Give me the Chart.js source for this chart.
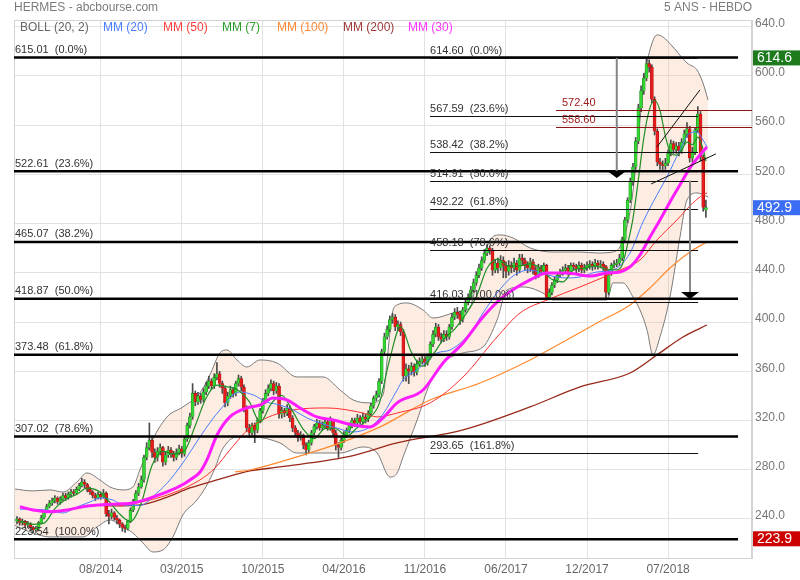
<!DOCTYPE html>
<html>
<head>
<meta charset="utf-8">
<script src="https://cdn.jsdelivr.net/npm/chart.js@4.4.1/dist/chart.umd.min.js"></script>
<style>
  html, body { margin: 0; padding: 0; background: #fff; }
  #wrap { width: 800px; height: 580px; }
</style>
</head>
<body>
<div id="wrap"><canvas id="chart" width="800" height="580"></canvas></div>
<script>
// weekly bars, index 0 = first visible week
const dateTicks = [31, 61, 91, 121, 151, 181, 211, 241];
const dateLabels = ['08/2014', '03/2015', '10/2015', '04/2016', '11/2016', '06/2017', '12/2017', '07/2018'];
const priceTicks = [240, 280, 320, 360, 400, 440, 480, 520, 560, 600, 640];

const opens = [
  238,240,237,238,235,236,233,231,232,237,241,246,250,
  253,255,257,254,256,259,257,260,262,261,264,267,270,268,264,
  262,259,257,260,258,261,244,242,245,241,239,236,233,
  232,238,247,254,261,266,272,290,298,304,294,
  290,295,298,286,292,296,293,290,294,297,
  293,305,316,323,342,335,340,337,343,
  348,352,348,355,358,350,346,334,340,345,
  342,350,354,347,330,314,310,316,
  312,320,328,336,342,346,350,344,348,325,
  328,326,330,322,314,310,306,308,300,296,302,310,
  315,318,314,316,319,314,320,310,300,298,
  304,308,312,316,320,318,322,319,323,321,326,332,338,
  341,352,376,388,394,402,404,396,398,392,
  356,362,360,364,359,366,368,370,367,
  372,382,390,396,388,386,390,388,396,404,408,406,402,410,416,420,426,432,
  438,444,450,456,460,458,442,448,444,450,446,441,
  446,444,448,442,452,450,446,444,449,442,438,444,441,446,
  420,424,430,434,438,440,442,444,441,446,445,443,446,442,
  444,446,447,445,448,446,447,445,424,440,446,447,
  448,452,467,483,499,514,526,547,574,588,598,610,607,581,555,530,528,
  527,529,537,545,540,543,539,546,553,557,533,538,556,569,534,491
];
const highs = [
  242,241,240,239,238,237,234,234,238,243,247,252,255,
  257,259,258,258,261,261,262,264,264,266,269,273,272,269,266,
  263,261,262,262,264,262,247,248,246,243,240,237,235,
  239,249,256,263,269,275,292,302,318,306,297,
  298,301,299,295,299,298,295,297,300,299,
  307,318,326,350,344,343,342,346,351,
  356,354,358,367,360,352,348,343,348,347,
  352,357,356,349,332,317,318,318,
  322,330,338,345,349,353,352,351,350,331,
  330,333,332,324,316,312,311,309,302,304,312,317,
  321,320,319,322,321,323,321,312,302,306,
  311,314,318,322,322,325,324,326,325,328,334,340,344,
  354,378,391,397,405,407,406,401,400,394,
  366,365,367,366,369,371,373,372,374,
  384,393,399,398,391,393,393,398,407,411,412,409,412,419,423,429,435,441,
  447,453,459,463,462,460,451,452,454,453,449,450,
  449,452,450,455,455,452,449,452,451,445,447,446,448,447,
  427,432,437,440,443,445,447,446,448,448,447,449,448,447,
  449,450,449,451,450,450,449,446,442,448,450,451,
  455,469,485,501,517,529,550,577,592,602,614.6,613,609,583,557,533,531,
  533,540,548,547,546,546,549,556,562,559,542,558,575,571,536,499
];
const lows = [
  236,235,235,233,233,231,229,229,231,236,240,245,249,
  251,253,252,252,255,255,256,258,259,260,263,266,265,262,260,
  257,255,256,256,257,242,236,240,239,236,233,230,229,
  231,237,246,253,259,265,270,288,296,290,286,
  287,292,283,284,290,290,287,288,292,290,
  291,303,314,321,332,333,334,335,341,
  346,345,346,353,347,342,331,332,338,339,
  340,348,344,327,311,306,308,302,
  310,318,326,334,340,344,341,342,322,322,
  323,324,319,311,307,303,304,297,292,294,300,308,
  313,312,312,314,312,312,307,296,290,296,
  302,306,310,314,315,316,317,317,318,319,324,330,336,
  339,350,374,386,392,399,393,393,389,352,
  352,350,357,356,357,364,366,364,365,
  370,380,388,385,383,384,385,386,394,402,403,398,400,408,414,418,424,430,
  436,442,448,454,455,438,440,440,442,436,436,438,
  440,441,438,440,446,442,440,441,439,435,436,438,439,418,
  418,422,428,432,436,438,440,438,439,442,440,441,440,440,
  442,443,442,443,443,444,442,419,422,438,444,445,
  446,450,465,481,497,511,524,545,571,585,596,603,578,552,527,524,522,
  524,527,535,537,537,535,537,544,550,530,530,536,554,531,490,485
];
const closes = [
  240,237,238,235,236,233,231,232,237,241,246,250,253,
  255,257,254,256,259,257,260,262,261,264,267,270,268,264,262,
  259,257,260,258,261,244,242,245,241,239,236,233,232,
  238,247,254,261,266,272,290,298,304,294,290,
  295,298,286,292,296,293,290,294,297,293,
  305,316,323,342,335,340,337,343,348,
  352,348,355,358,350,346,334,340,345,342,
  350,354,347,330,314,310,316,312,
  320,328,336,342,346,350,344,348,325,328,
  326,330,322,314,310,306,308,300,296,302,310,315,
  318,314,316,319,314,320,310,300,298,304,
  308,312,316,320,318,322,319,323,321,326,332,338,341,
  352,376,388,394,402,404,396,398,392,356,
  362,360,364,359,366,368,370,367,372,
  382,390,396,388,386,390,388,396,404,408,406,402,410,416,420,426,432,438,
  444,450,456,460,458,442,448,444,450,446,441,446,
  444,448,442,452,450,446,444,449,442,438,444,441,446,420,
  424,430,434,438,440,442,444,441,446,445,443,446,442,444,
  446,447,445,448,446,447,445,424,440,446,447,448,
  452,467,483,499,514,526,547,574,588,598,610,607,581,555,530,528,527,
  529,537,545,540,543,539,546,553,557,533,538,556,569,534,493,492.9
];

// moving averages and bands: [week index, price]
const mm7 = [[0,239],[3,237],[6,235.7],[10,236.6],[14,248.4],[18,255.9],[22,259.9],[26,265.1],[30,262.9],[34,254.4],[38,244],[42,238],[46,252.9],[50,283.6],[54,295],[58,292.9],[62,295.4],[66,315.9],[70,338.3],[74,348.7],[78,347.3],[82,344.4],[86,335.3],[90,318.6],[94,333.4],[98,340.4],[102,327.6],[106,312.9],[110,305.3],[114,313.4],[118,313.3],[122,307.4],[126,314.3],[130,321.3],[134,333.3],[138,370.1],[142,396.3],[146,375.4],[150,364.1],[154,373.6],[158,386.3],[162,394.3],[166,406],[170,420.6],[174,443.7],[178,451.1],[182,445.3],[186,445.6],[190,447.3],[194,443.4],[198,434.7],[202,432.6],[206,442.3],[210,443.9],[214,445.4],[218,443.1],[222,442.4],[224,446.3],[226,463.1],[228,484.1],[230,515.7],[232,549.4],[234,572],[236,580],[238,572],[240,551],[242,537],[244,535.6],[246,539.9],[248,546.1],[250,544.1],[252,550.3],[254,540],[255,530.8]];
const mm20 = [[1.1,248],[11.1,247.3],[17,244.9],[22.2,249.8],[27,253.8],[30.7,257.1],[35.5,255.4],[39.2,251.4],[45.5,251],[51.8,261.1],[56.6,271.7],[62.9,290.4],[67.7,306.6],[75.1,328.6],[82.5,343.2],[87.4,340.8],[92.5,335],[97.3,332.6],[102.2,328.6],[107.3,322.1],[112.2,318],[118.4,313.9],[124.4,310.7],[130.7,314.8],[135.5,325.3],[140.7,344.8],[142.9,352.9],[148.1,361.1],[155.5,374.9],[160.3,377.3],[167.7,391.1],[172.5,407.4],[177.7,423.6],[183.6,437.4],[189.9,442.3],[196.2,438.3],[203.6,435.8],[208.4,436.6],[214.7,440.7],[220.6,442.3],[226.9,456.1],[231.7,481.3],[236.9,503.3],[240.6,517.9],[245.4,539.8],[249.1,553.6],[251.7,554.4],[253.9,548],[255.4,542.3]];
const mm30 = [[1.1,250],[5.9,247.3],[12.2,245.9],[18.5,247.3],[24.4,250],[30.7,251.4],[37,252.2],[42.9,253],[49.2,257],[55.5,262],[61.4,268],[64,271.7],[67.7,278],[70.3,288],[74,308],[78.8,322.9],[85.1,330.2],[90,332.6],[94.8,338.3],[99.9,336.7],[104.8,330.2],[111,322.9],[117,320.4],[124.4,316.4],[130.7,314.8],[135.5,322.1],[140.7,334.3],[150.3,344.8],[157.7,366.8],[165.1,383],[172.5,404.1],[179.9,420.4],[189.9,434.2],[196.2,439.9],[203.6,439.9],[212.1,437.4],[218.4,439.9],[223.2,440.7],[226.9,444.8],[230.6,454.5],[234.3,469.1],[238,483],[241.7,497.6],[245.4,511.5],[249.1,525.3],[252.8,535.8],[255.4,542.3]];
const mm50 = [[38,250.5],[49.2,255.4],[57.7,261.1],[67.7,271.7],[73.3,281.4],[78.8,296.1],[86.2,313.9],[97.3,326.1],[114.7,330.2],[128.1,326.1],[133.3,322.9],[140.7,326.1],[152.9,334.3],[165.1,355.4],[177.7,387.9],[186.2,407.4],[196.2,417.9],[208.4,428.5],[223.2,442.3],[230.6,450.4],[236.9,466.7],[244.3,483],[250.2,496.8],[253.9,503.3],[255.4,504.9]];
const mm100 = [[80.7,278.2],[86.2,279.8],[103.6,290.4],[119.6,301.8],[134.4,314.8],[152.9,336.7],[171.4,350.5],[189.9,369.2],[202.1,383.8],[214.7,399.3],[226.9,413.9],[234.3,427.7],[241.7,443.9],[249.1,457],[255.4,465.1]];
const mm200 = [[28.1,251.4],[36.3,250.6],[45.5,251.4],[54.8,257.1],[64,265.2],[74,271.7],[86.2,279],[97.3,282.3],[122.2,290.4],[140.7,301.8],[165.1,312.3],[189.9,331],[208.4,347.3],[226.9,358.6],[236.9,373.3],[246.5,387.9],[255.4,397.6]];
const bollUpper = [[-1.1,264.4],[5.9,262.8],[12.2,263.6],[17,261.9],[22.2,270.1],[25.9,277.4],[30.7,271.7],[34.4,266],[39.2,263.6],[42.9,266],[45.5,279.8],[49.2,300.1],[55.5,322.9],[61.4,331],[67.7,342.4],[71.4,357],[75.1,374.9],[77.7,377.3],[81.4,369.2],[85.1,363.5],[89.9,369.2],[96.2,366.8],[103.6,355.4],[113.3,355.4],[119.6,344.8],[124.4,336.7],[130.7,334.3],[135.5,340.8],[137,369.2],[138.8,405.8],[140.7,413.9],[144.4,415.5],[150.3,409.8],[154,403.3],[162.9,408.2],[167.7,412.3],[169.5,426.1],[172.1,448.8],[175.1,466.7],[178.8,470.8],[183.6,468.3],[189.9,460.2],[198.4,456.9],[208.4,456.9],[214.7,456.1],[220.6,456.9],[223.2,461],[225,470.8],[227.6,499.2],[229.9,547.9],[232.1,596.7],[234.3,621.1],[236.9,633.3],[239.1,631.6],[242.8,623.5],[248,610.5],[251.7,604.8],[253.9,594.3],[255.8,580.4]];
const bollLower = [[-1.1,235.1],[5.9,228.6],[12.2,225.4],[18.5,225.4],[24.4,225.4],[29.6,233.5],[34.4,239.2],[39.2,233.5],[42.9,228.6],[46.6,220.5],[50.3,213.2],[54,214.8],[57.7,225.4],[61.4,243.3],[66.6,255.4],[70.3,267.6],[73.3,281.4],[75.9,296.1],[81.4,306.6],[87.4,306.6],[97.3,301.8],[103.6,293.6],[112.2,293.6],[119.6,293.6],[128.1,298.5],[133.3,293.6],[138.1,274.1],[140.7,277.4],[142.9,290.4],[148.1,320.4],[152.9,350.5],[157.7,366.8],[165.1,374.9],[172.5,379.8],[177.7,401.7],[181.4,426.1],[187.3,428.5],[194.7,423.6],[198.4,417.9],[214.7,417.9],[218.4,417.9],[220.6,431.8],[224.3,431.8],[228,420.4],[230.6,409.8],[233.2,393.6],[235.4,373.3],[238,387.9],[241.7,420.4],[245.4,469.1],[248,499.2],[251.7,504.9],[255.8,501.6]];

// Fibonacci retracements
const fibLongLevels = [615.01, 522.61, 465.07, 418.87, 373.48, 307.02, 223.54];
const fibLongPct = ['0.0%', '23.6%', '38.2%', '50.0%', '61.8%', '78.6%', '100.0%'];
const fibShortLevels = [614.60, 567.59, 538.42, 514.91, 492.22, 458.18, 416.03, 293.65];
const fibShortPct = ['0.0%', '23.6%', '38.2%', '50.0%', '61.8%', '78.6%', '100.0%', '161.8%'];
const resistLevels = [572.40, 558.60];
const trendLines = [[236.9, 542.3, 252.8, 588.6], [234.7, 512.2, 258.7, 536.6]];
const arrows = [[222, 614.6, 522.6, 517.1], [249.1, 514.91, 424.4, 418.8]];
const priceTags = [614.6, 492.9, 223.9];
const priceTagColors = ['#1d7a1d', '#3b6cf4', '#cc0000'];

const legendItems = [
  ['BOLL (20, 2)', '#666666', 20], ['MM (20)', '#4a7dff', 103], ['MM (50)', '#ff4040', 163],
  ['MM (7)', '#2c9c2c', 222], ['MM (100)', '#ff8833', 277], ['MM (200)', '#a03a3a', 343],
  ['MM (30)', '#ff33ff', 408]
];

[opens, highs, lows].forEach((arr) => {
  if (arr.length !== closes.length) throw new Error('length mismatch ' + arr.length + ' vs ' + closes.length);
});

const FONT = '"Liberation Sans", Arial, sans-serif';
const isUp = (i) => closes[i] >= opens[i];
const toXY = (pts) => pts.map((p) => ({ x: p[0], y: p[1] }));

const maLine = (label, pts, color, width, order) => ({
  type: 'line', label, data: toXY(pts), borderColor: color, borderWidth: width,
  pointRadius: 0, cubicInterpolationMode: 'monotone', fill: false, order
});

const decor = {
  id: 'decor',
  afterDraw(chart) {
    const { ctx, chartArea: a, scales: { x, y } } = chart;
    const px = (v) => x.getPixelForValue(v);
    const py = (v) => y.getPixelForValue(v);
    ctx.save();

    // frame
    ctx.strokeStyle = '#d4d4d4';
    ctx.lineWidth = 1;
    ctx.strokeRect(a.left + 0.5, a.top + 0.5, a.right - a.left - 1, a.bottom - a.top);

    // header
    ctx.font = '12px ' + FONT;
    ctx.textBaseline = 'middle';
    ctx.fillStyle = '#7c7c7c';
    ctx.textAlign = 'left';
    ctx.fillText('HERMES - abcbourse.com', 14, 8);
    ctx.textAlign = 'right';
    ctx.fillText('5 ANS - HEBDO', a.right, 8);
    ctx.textAlign = 'left';
    legendItems.forEach(([t, c, lx]) => { ctx.fillStyle = c; ctx.fillText(t, lx, 28); });

    ctx.beginPath();
    ctx.rect(a.left, a.top, a.right - a.left, a.bottom - a.top);
    ctx.clip();

    // long-term retracement
    ctx.font = '11px ' + FONT;
    ctx.textBaseline = 'bottom';
    fibLongLevels.forEach((v, i) => {
      const yy = py(v);
      ctx.strokeStyle = '#000';
      ctx.lineWidth = 2.5;
      ctx.beginPath();
      ctx.moveTo(a.left, yy);
      ctx.lineTo(px(266.9), yy);
      ctx.stroke();
      ctx.fillStyle = '#333';
      ctx.fillText(v.toFixed(2) + '  (' + fibLongPct[i] + ')', a.left + 1, yy - 2);
    });

    // short-term retracement
    fibShortLevels.forEach((v, i) => {
      const yy = Math.round(py(v)) + 0.5;
      ctx.strokeStyle = '#111';
      ctx.lineWidth = 1;
      ctx.beginPath();
      ctx.moveTo(px(152.9), yy);
      ctx.lineTo(px(252.1), yy);
      ctx.stroke();
      ctx.fillStyle = '#333';
      ctx.fillText(v.toFixed(2) + '  (' + fibShortPct[i] + ')', px(152.9), yy - 2);
    });

    // resistances
    resistLevels.forEach((v) => {
      const yy = Math.round(py(v)) + 0.5;
      ctx.strokeStyle = '#8c1414';
      ctx.lineWidth = 1;
      ctx.beginPath();
      ctx.moveTo(px(199.5), yy);
      ctx.lineTo(a.right, yy);
      ctx.stroke();
      ctx.fillStyle = '#a01c1c';
      ctx.fillText(v.toFixed(2), px(201.7), yy - 2);
    });

    // trend lines
    ctx.strokeStyle = '#111';
    ctx.lineWidth = 1;
    trendLines.forEach(([x1, y1, x2, y2]) => {
      ctx.beginPath();
      ctx.moveTo(px(x1), py(y1));
      ctx.lineTo(px(x2), py(y2));
      ctx.stroke();
    });

    // target arrows
    arrows.forEach(([ax, from, headTop, tip]) => {
      const xx = px(ax);
      ctx.strokeStyle = '#858585';
      ctx.lineWidth = 2;
      ctx.beginPath();
      ctx.moveTo(xx, py(from));
      ctx.lineTo(xx, py(headTop));
      ctx.stroke();
      ctx.fillStyle = '#000';
      ctx.beginPath();
      ctx.moveTo(xx - 9, py(headTop));
      ctx.lineTo(xx + 9, py(headTop));
      ctx.lineTo(xx, py(tip));
      ctx.closePath();
      ctx.fill();
    });
    ctx.restore();

    // price tags on the axis
    ctx.save();
    ctx.font = '14px ' + FONT;
    ctx.textBaseline = 'middle';
    ctx.textAlign = 'left';
    priceTags.forEach((v, i) => {
      const yy = py(v);
      ctx.fillStyle = priceTagColors[i];
      ctx.fillRect(a.right + 1, yy - 7.5, 800 - a.right - 1, 15);
      ctx.fillStyle = '#fff';
      ctx.fillText(v.toFixed(1), a.right + 5, yy + 0.5);
    });
    ctx.restore();
  }
};

new Chart(document.getElementById('chart'), {
  type: 'bar',
  data: {
    datasets: [
      { type: 'line', label: 'BOLL up', data: toXY(bollUpper), borderColor: '#7a7a7a', borderWidth: 1,
        pointRadius: 0, cubicInterpolationMode: 'monotone', fill: '+1',
        backgroundColor: 'rgba(248, 185, 150, 0.28)', order: 20 },
      { type: 'line', label: 'BOLL low', data: toXY(bollLower), borderColor: '#7a7a7a', borderWidth: 1,
        pointRadius: 0, cubicInterpolationMode: 'monotone', fill: false, order: 19 },
      { label: 'wick', data: closes.map((c, i) => ({ x: i, y: [lows[i], highs[i]] })),
        backgroundColor: '#4a4a4a', barThickness: 1, grouped: false, order: 15 },
      { label: 'body', data: closes.map((c, i) => ({ x: i, y: [opens[i], c] })),
        backgroundColor: (ctx) => (isUp(ctx.dataIndex) ? '#33d633' : '#e81c1c'),
        borderColor: (ctx) => (isUp(ctx.dataIndex) ? '#1f8a1f' : '#a51010'),
        borderWidth: 0.6, barThickness: 3, minBarLength: 1, grouped: false, order: 14 },
      maLine('MM (200)', mm200, '#982818', 1.3, 9),
      maLine('MM (100)', mm100, '#ff8a30', 1.2, 8),
      maLine('MM (50)', mm50, '#ff2e2e', 1, 7),
      maLine('MM (20)', mm20, '#4a7dff', 1, 6),
      maLine('MM (7)', mm7, '#1f8f25', 1.2, 5),
      maLine('MM (30)', mm30, '#ff1cff', 3, 4)
    ]
  },
  options: {
    responsive: false,
    animation: false,
    devicePixelRatio: 1,
    layout: { padding: { left: 14, top: 20, right: 0, bottom: 0 } },
    plugins: { legend: { display: false }, tooltip: { enabled: false } },
    scales: {
      x: {
        type: 'linear', min: -1.11, max: 272.06, offset: false,
        grid: { color: '#e2e2e2', offset: false, drawTicks: false },
        border: { display: true, color: '#d4d4d4' },
        ticks: {
          padding: 4, color: '#666', maxRotation: 0, autoSkip: false,
          font: { family: FONT, size: 12 },
          callback: (v) => { const k = dateTicks.indexOf(v); return k >= 0 ? dateLabels[k] : ''; }
        },
        afterBuildTicks: (s) => { s.ticks = dateTicks.map((v) => ({ value: v })); },
        afterFit: (s) => { s.height = 22; }
      },
      y: {
        type: 'linear', position: 'right', min: 208.3, max: 645.4,
        grid: { color: '#e2e2e2', drawTicks: false },
        border: { display: true, color: '#d4d4d4' },
        ticks: {
          padding: 3, color: '#777', labelOffset: -3,
          font: { family: FONT, size: 12 },
          callback: (v) => Number(v).toFixed(1)
        },
        afterBuildTicks: (s) => { s.ticks = priceTicks.map((v) => ({ value: v })); },
        afterFit: (s) => { s.width = 48; }
      }
    }
  },
  plugins: [decor]
});
</script>
</body>
</html>
